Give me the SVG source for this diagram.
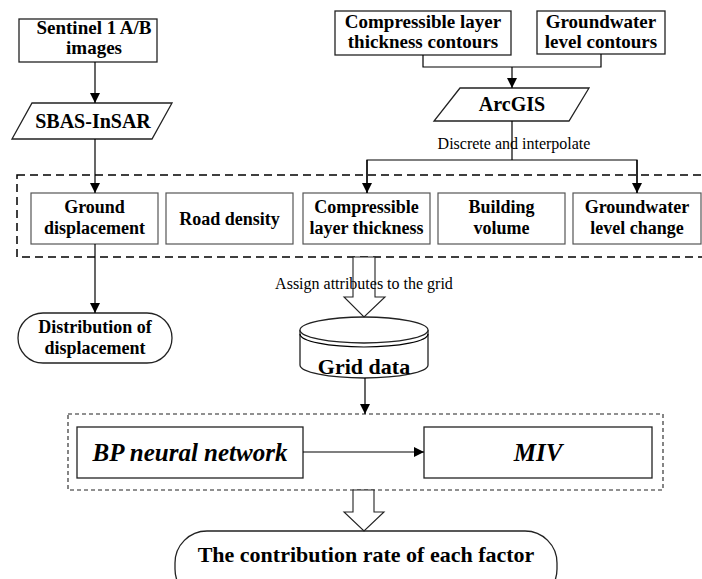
<svg xmlns="http://www.w3.org/2000/svg" width="702" height="579" viewBox="0 0 702 579">
<defs>
<style>
.box{fill:#fff;stroke:#222;stroke-width:1.3}
.gbox{fill:#fff;stroke:#555;stroke-width:1.2}
.t{font-family:"Liberation Serif","Times New Roman",serif;font-weight:bold;fill:#000;text-anchor:middle}
.lbl{font-family:"Liberation Serif","Times New Roman",serif;fill:#000;text-anchor:middle;font-size:16px}
.ln{fill:none;stroke:#000;stroke-width:1.2}
.dash1{fill:none;stroke:#000;stroke-width:1.5;stroke-dasharray:8 5}
.dash2{fill:none;stroke:#222;stroke-width:1.1;stroke-dasharray:4 3}
.hollow{fill:#fff;stroke:#222;stroke-width:1.1}
</style>
<marker id="ah" viewBox="0 0 10 10" refX="10" refY="5" markerWidth="10" markerHeight="10" markerUnits="userSpaceOnUse" orient="auto">
<path d="M0,0 L10,5 L0,10 Z" fill="#000"/>
</marker>
</defs>

<rect x="17" y="175" width="700" height="82" class="dash1"/>
<rect x="68" y="414" width="595" height="76" class="dash2"/>

<g id="sentinel">
<rect x="19" y="19" width="138" height="43" class="box"/>
<text class="t" font-size="19" x="94" y="34">Sentinel 1 A/B</text>
<text class="t" font-size="19" x="94" y="54">images</text>
</g>

<g id="sbas">
<polygon points="32,103 172,103 152,139 12,139" class="box"/>
<text class="t" font-size="20" x="93" y="128">SBAS-InSAR</text>
</g>

<g id="compcont">
<rect x="335" y="11" width="176" height="44" class="box"/>
<text class="t" font-size="19" x="423" y="28">Compressible layer</text>
<text class="t" font-size="19" x="423" y="48">thickness contours</text>
</g>

<g id="gwcont">
<rect x="537" y="11" width="128" height="43" class="box"/>
<text class="t" font-size="19" x="601" y="28">Groundwater</text>
<text class="t" font-size="19" x="601" y="48">level contours</text>
</g>

<g id="arcgis">
<polygon points="460,88 589,88 569,121 434,121" class="box"/>
<text class="t" font-size="20" x="512" y="111">ArcGIS</text>
</g>

<g id="ground">
<rect x="31" y="193" width="127" height="51" class="gbox"/>
<text class="t" font-size="18" x="94.5" y="213">Ground</text>
<text class="t" font-size="18" x="94.5" y="234">displacement</text>
</g>

<g id="road">
<rect x="166" y="193" width="127" height="51" class="gbox"/>
<text class="t" font-size="18" x="229.5" y="225">Road density</text>
</g>

<g id="complayer">
<rect x="303" y="193" width="127" height="51" class="gbox"/>
<text class="t" font-size="18" x="366.5" y="213">Compressible</text>
<text class="t" font-size="18" x="366.5" y="234">layer thickness</text>
</g>

<g id="building">
<rect x="438" y="193" width="127" height="51" class="gbox"/>
<text class="t" font-size="18" x="501.5" y="213">Building</text>
<text class="t" font-size="18" x="501.5" y="234">volume</text>
</g>

<g id="gwchange">
<rect x="573" y="193" width="128" height="51" class="gbox"/>
<text class="t" font-size="18" x="637" y="213">Groundwater</text>
<text class="t" font-size="18" x="637" y="234">level change</text>
</g>

<g id="distribution">
<rect x="18" y="313" width="154" height="50" rx="25" ry="25" class="box"/>
<text class="t" font-size="18" x="95" y="333">Distribution of</text>
<text class="t" font-size="18" x="95" y="354">displacement</text>
</g>

<g id="griddata">
<path d="M300,330 L300,365 A64,13 0 0 0 428,365 L428,330" class="box"/>
<ellipse cx="364" cy="330" rx="64" ry="13" class="box"/>
<path d="M300,334 A64,13 0 0 0 428,334" class="ln" stroke="#333" stroke-width="1"/>
<text class="t" font-size="22" x="364" y="374">Grid data</text>
</g>

<g id="bp">
<rect x="77" y="427" width="226" height="51" class="box"/>
<text class="t" font-size="25" font-style="italic" x="190" y="461">BP neural network</text>
</g>

<g id="miv">
<rect x="424" y="427" width="228" height="51" class="box"/>
<text class="t" font-size="25" font-style="italic" x="538" y="461">MIV</text>
</g>

<g id="contribution">
<rect x="175" y="531" width="382" height="70" rx="32" ry="32" class="box"/>
<text class="t" font-size="22" x="366" y="562">The contribution rate of each factor</text>
</g>

<g id="connectors">
<line x1="95" y1="62" x2="95" y2="103" class="ln" marker-end="url(#ah)"/>
<line x1="95" y1="139" x2="95" y2="193" class="ln" marker-end="url(#ah)"/>
<polyline points="423,55 423,67 601,67 601,54" class="ln"/>
<line x1="512" y1="67" x2="512" y2="88" class="ln" marker-end="url(#ah)"/>
<line x1="512" y1="121" x2="512" y2="160" class="ln"/>
<polyline points="367,193 367,160 637,160 637,193" class="ln"/>
<line x1="367" y1="160" x2="367" y2="193" class="ln" marker-end="url(#ah)"/>
<line x1="637" y1="160" x2="637" y2="193" class="ln" marker-end="url(#ah)"/>
<line x1="95" y1="244" x2="95" y2="313" class="ln" marker-end="url(#ah)"/>
<polygon points="353,257 375,257 375,297 385,297 364,317 344,297 353,297" class="hollow"/>
<line x1="365" y1="378" x2="365" y2="414" class="ln" marker-end="url(#ah)"/>
<line x1="303" y1="452" x2="424" y2="452" class="ln" marker-end="url(#ah)"/>
<polygon points="353,490 374,490 374,512 384,512 364,531 344,512 353,512" class="hollow"/>
<text class="lbl" x="514" y="149">Discrete and interpolate</text>
<text class="lbl" x="364" y="289">Assign attributes to the grid</text>
</g>
</svg>
